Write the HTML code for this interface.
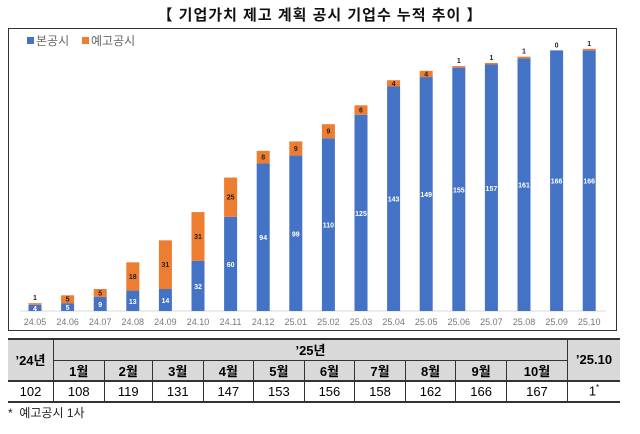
<!DOCTYPE html>
<html><head><meta charset="utf-8">
<style>
body{margin:0;width:640px;height:434px;background:#fff;font-family:"Liberation Sans","Noto Sans CJK KR",sans-serif;position:relative;overflow:hidden}
#title{position:absolute;left:0;width:640px;top:4px;text-align:center;font-size:15px;font-weight:bold;color:#111;letter-spacing:1px}
#chartbox{position:absolute;left:8px;top:28px;width:607px;height:301px;border:1.5px solid #333}
table{position:absolute;left:8px;top:338px;width:612px;border-collapse:collapse;font-size:13px;text-align:center}
td{border-left:1px solid #333;border-right:1px solid #333;padding:0}
td:first-child{border-left:none}td:last-child{border-right:none}
.h td{background:#d9d9d9;font-weight:bold}
#foot{position:absolute;left:8px;top:404px;font-size:12px;color:#222}
</style></head><body>
<div id="title">【 기업가치 제고 계획 공시 기업수 누적 추이 】</div>
<div id="chartbox"></div>
<svg id="chart" width="640" height="434" style="position:absolute;left:0;top:0">
<g>
<rect x="27" y="37" width="7" height="7" fill="#4472c4"/><text x="36" y="45" font-size="12" fill="#666">본공시</text>
<rect x="82" y="37" width="7" height="7" fill="#ed7d31"/><text x="91" y="45" font-size="12" fill="#666">예고공시</text>
</g>
<line x1="20" x2="606" y1="311" y2="311" stroke="#d9d9d9"/>
</svg>
<table>
<tr class="h" style="border-top:2.5px solid #333;height:21px"><td rowspan="2" style="width:45px">’24년</td><td colspan="10" style="border-bottom:1px solid #333">’25년</td><td rowspan="2" style="width:52px">’25.10</td></tr>
<tr class="h" style="height:20px;border-bottom:2.5px solid #333"><td>1월</td><td>2월</td><td>3월</td><td>4월</td><td>5월</td><td>6월</td><td>7월</td><td>8월</td><td>9월</td><td>10월</td></tr>
<tr style="height:21px;border-bottom:2px solid #333"><td>102</td><td>108</td><td>119</td><td>131</td><td>147</td><td>153</td><td>156</td><td>158</td><td>162</td><td>166</td><td>167</td><td>1<sup style="font-size:8px">*</sup></td></tr>
</table>
<div id="foot">* &nbsp;예고공시 1사</div>
<script>
const categories=["24.05","24.06","24.07","24.08","24.09","24.10","24.11","24.12","25.01","25.02","25.03","25.04","25.05","25.06","25.07","25.08","25.09","25.10"];
const mainValues=[4,5,9,13,14,32,60,94,99,110,125,143,149,155,157,161,166,166];
const preValues=[1,5,5,18,31,31,25,8,9,9,6,4,4,1,1,1,0,1];
const svg=document.getElementById('chart');const NS='http://www.w3.org/2000/svg';
const x0=35,step=32.6,base=311,k=1.57,bw=13;
const xs=i=>x0+i*step, ys=v=>base-v*k;
function el(t,a){const e=document.createElementNS(NS,t);for(const n in a)e.setAttribute(n,a[n]);svg.appendChild(e);return e;}
categories.forEach((c,i)=>{
 const cx=xs(i),m=mainValues[i],p=preValues[i];
 const r1=el('rect',{x:cx-bw/2,y:ys(m),width:bw,height:m*k,fill:'#4472c4'});
 
 
 const r2=el('rect',{x:cx-bw/2,y:ys(m+p),width:bw,height:p*k,fill:'#ed7d31'});
 
 
 const t1=el('text',{x:cx,y:ys(m/2)+3,'text-anchor':'middle','font-size':'7','font-weight':'bold',fill:'#fff'});t1.textContent=m;
 
 
 const inside=p*k>=6;
 const t2=el('text',{x:cx,y:inside?ys(m+p/2)+2.5:ys(m+p)-3,'text-anchor':'middle','font-size':'7','font-weight':'bold',fill:'#222'});t2.textContent=p;
 
 
 const t3=el('text',{x:cx,y:325,'text-anchor':'middle','font-size':'9',fill:'#777'});t3.textContent=c;
 
 
});
</script>
</body></html>
